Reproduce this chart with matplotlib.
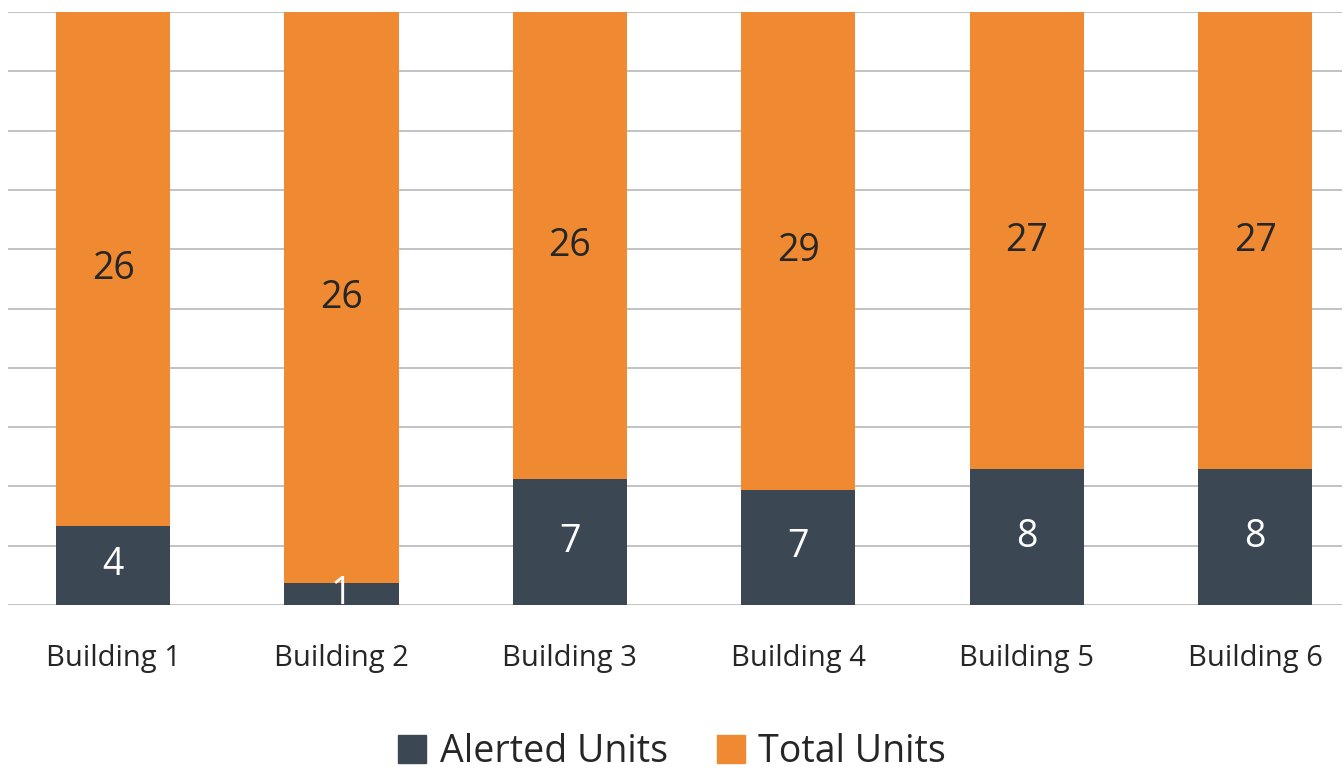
import numpy as np
import matplotlib.pyplot as plt
from matplotlib.patches import Patch

buildings = ["Building 1", "Building 2", "Building 3", "Building 4", "Building 5", "Building 6"]
alerted = [4, 1, 7, 7, 8, 8]
total = [26, 26, 26, 29, 27, 27]

plt.rcParams["font.family"] = ["Open Sans", "DejaVu Sans"]

dark = "#3C4754"
orange = "#EF8A33"
txt = "#262626"

a = np.array(alerted, dtype=float)
t = np.array(total, dtype=float)
s = a + t
a_pct = a / s * 100
t_pct = t / s * 100

fig = plt.figure(figsize=(13.44, 7.72), dpi=100)
ax = fig.add_axes([8 / 1344, 1 - 605 / 772, (1342 - 8) / 1344, (605 - 12) / 772])

x = np.arange(len(buildings))
w = 0.5
ax.bar(x, a_pct, w, color=dark, zorder=3)
ax.bar(x, t_pct, w, bottom=a_pct, color=orange, zorder=3)

for i in range(len(x)):
    ax.text(x[i], a_pct[i] / 2, str(alerted[i]), ha="center", va="center",
            color="white", fontsize=27, zorder=4)
    ax.text(x[i], a_pct[i] + t_pct[i] / 2, str(total[i]), ha="center", va="center",
            color=txt, fontsize=27, zorder=4)

ax.set_ylim(0, 100)
ax.set_xlim(-0.46, 5.38)
ax.set_yticks(np.arange(0, 101, 10))
ax.set_yticklabels([])
ax.yaxis.grid(True, color="#BDBDBD", lw=1.3)
ax.set_axisbelow(True)
ax.tick_params(axis="both", length=0)
ax.set_xticks(x)
ax.set_xticklabels(buildings, fontsize=21, color=txt)
ax.tick_params(axis="x", pad=28)
for sp in ax.spines.values():
    sp.set_visible(False)

handles = [Patch(color=dark, label="Alerted Units"), Patch(color=orange, label="Total Units")]
fig.legend(handles=handles, loc="center", bbox_to_anchor=(0.5, 20 / 772), ncol=2,
           frameon=False, fontsize=27, handlelength=0.75, handleheight=0.75,
           handletextpad=0.37, columnspacing=1.3, labelcolor=txt)

fig.savefig("out.png", dpi=100)
